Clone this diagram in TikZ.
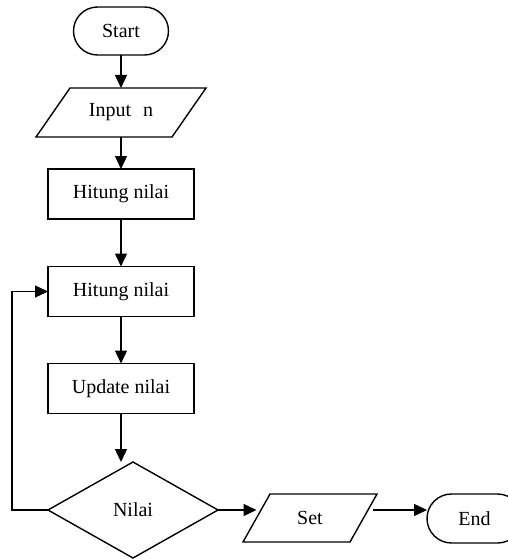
\documentclass[tikz,border=0pt]{standalone}
\usepackage{fontspec}
\setmainfont{Liberation Serif}
\usetikzlibrary{arrows.meta,shapes.geometric,shapes.misc,calc}
\begin{document}
\begin{tikzpicture}[x=1pt,y=-1pt,
  font=\fontsize{20}{23}\selectfont,
  every node/.style={inner sep=0pt,outer sep=0pt},
  ln/.style={line width=1.4pt},
  arr/.style={ln,-{Triangle[length=13pt,width=12pt]}},
  term/.style={rounded rectangle,draw,ln,minimum width=95pt,minimum height=48pt},
  procbox/.style={rectangle,draw,ln,minimum width=146pt,minimum height=50pt},
  iobox/.style={rectangle,minimum height=48pt},
  decis/.style={diamond,draw,ln,minimum width=170pt,minimum height=96pt}
]
\useasboundingbox (0,0) rectangle (507,559);
\node[term] (start) at (121,31) {Start};
\node[iobox,minimum width=136pt,minimum height=49pt] (inp) at (121,112.5) {Input\hspace{0.6em}n};
\draw[ln] ($(inp.north west)+(17,0)$) -- ($(inp.north east)+(17,0)$) -- ($(inp.south east)+(-17,0)$) -- ($(inp.south west)+(-17,0)$) -- cycle;
\node[procbox] (h1) at (121,194) {Hitung nilai};
\node[procbox] (h2) at (121,291.5) {Hitung nilai};
\node[procbox] (up) at (121,388.5) {Update nilai};
\node[decis] (dia) at (133,510) {Nilai};
\node[iobox,minimum width=107pt] (set) at (310,518) {Set};
\draw[ln] ($(set.north west)+(13.5,0)$) -- ($(set.north east)+(13.5,0)$) -- ($(set.south east)+(-13.5,0)$) -- ($(set.south west)+(-13.5,0)$) -- cycle;
\node[term,minimum height=49pt] (end) at (474.5,518.5) {End};
\coordinate (loopx) at (12,283);
\coordinate (setout) at ($(dia.east -| set.east)+(9,0)$);
\draw[arr] (start.south) -- (inp.north);
\draw[arr] (inp.south) -- (h1.north);
\draw[arr] (h1.south) -- (h2.north);
\draw[arr] (h2.south) -- (up.north);
\draw[arr] (up.south) -- (up.south |- dia.north);
\draw[arr] (dia.west) -- (loopx |- dia.west) |- (h2.west);
\draw[arr] (dia.east) -- (dia.east -| set.west);
\draw[arr] (setout) -- (setout -| end.west);
\end{tikzpicture}
\end{document}
